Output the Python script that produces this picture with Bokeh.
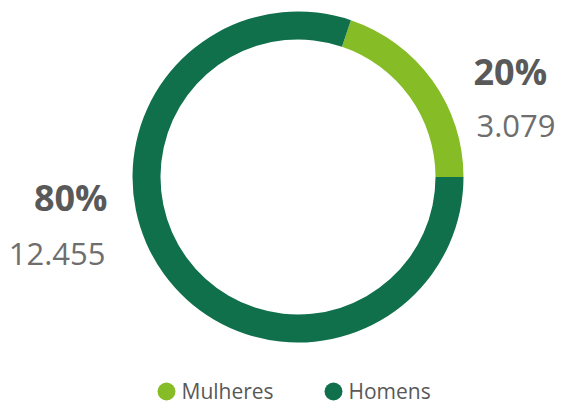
import numpy as np
from bokeh.plotting import figure
from bokeh.models import Range1d, ColumnDataSource
from bokeh.core.properties import value
from bokeh.embed import file_html
from bokeh.resources import INLINE

categories = ["Mulheres", "Homens"]
counts = [3079, 12455]
count_labels = ["3.079", "12.455"]
pct_labels = ["20%", "80%"]
colors = ["#86bc25", "#0f704b"]

W, H = 561, 404
p = figure(width=W, height=H, output_backend="svg", toolbar_location=None,
           x_range=Range1d(0, W), y_range=Range1d(0, H),
           min_border=0, outline_line_color=None)
p.axis.visible = False
p.grid.visible = False
p.background_fill_color = "white"
p.border_fill_color = "white"

def Y(py):
    return H - py

vals = np.array(counts, dtype=float)
frac = vals / vals.sum()
ends = np.cumsum(frac) * 2 * np.pi
starts = np.concatenate([[0.0], ends[:-1]])
src = ColumnDataSource(dict(cat=categories, start=starts, end=ends, color=colors))
p.annular_wedge(x=297.5, y=Y(176.5), inner_radius=137.5, outer_radius=165.5,
                start_angle="start", end_angle="end", fill_color="color",
                line_color=None, source=src)

font = value("Open Sans")
# percentage labels
p.text(x=[473], y=[Y(71)], text=[pct_labels[0]], text_font=font, text_font_size="36px",
       text_font_style="bold", text_color="#595959", text_baseline="middle", text_align="left")
p.text(x=[476], y=[Y(125)], text=[count_labels[0]], text_font=font, text_font_size="31px",
       text_color="#6e6e6e", text_baseline="middle", text_align="left")
p.text(x=[107], y=[Y(197)], text=[pct_labels[1]], text_font=font, text_font_size="36px",
       text_font_style="bold", text_color="#595959", text_baseline="middle", text_align="right")
p.text(x=[105], y=[Y(253)], text=[count_labels[1]], text_font=font, text_font_size="31px",
       text_color="#6e6e6e", text_baseline="middle", text_align="right")

# legend
lx = [166, 333]
p.scatter(x=lx, y=[Y(391)] * 2, size=18, marker="circle", fill_color=colors, line_color=None)
p.text(x=[x + 15 for x in lx], y=[Y(390)] * 2, text=categories, text_font=font,
       text_font_size="21px", text_color="#595959", text_baseline="middle", text_align="left")

open("out.html", "w").write(file_html(p, INLINE))
